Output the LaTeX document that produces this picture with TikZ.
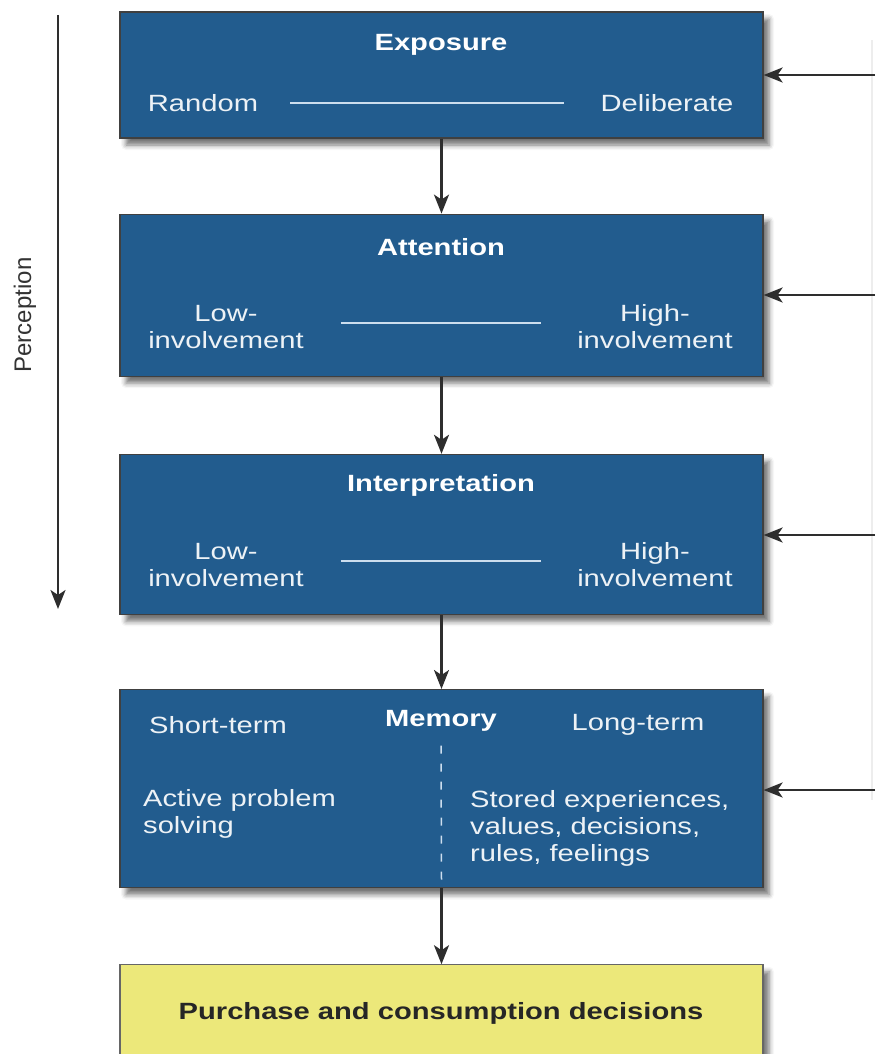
\documentclass[tikz,border=0pt]{standalone}
\usepackage{fontspec}
\setmainfont{Liberation Sans}
\newfontfamily\boxfont{Liberation Sans}[FakeStretch=1.24]
\usetikzlibrary{positioning}
\usetikzlibrary{arrows.meta}
\usetikzlibrary{shadows.blur}
\definecolor{stageblue}{RGB}{34,92,142}
\definecolor{buyyellow}{RGB}{236,232,122}
\definecolor{lineblue}{RGB}{205,222,238}
\tikzset{
    stage/.style = {rectangle, draw=black!75, line width=1.2pt, fill=stageblue, minimum width=643pt, inner sep=0pt, blur shadow={shadow xshift=6pt, shadow yshift=-7pt, shadow blur radius=5pt, shadow opacity=55}},
    buy/.style = {stage, fill=buyyellow, draw=black!60},
    ttl/.style = {text=white, font=\boxfont\bfseries\fontsize{23.5}{27}\selectfont, inner sep=0pt},
    txt/.style = {text=white!92!stageblue, font=\boxfont\fontsize{23.5}{27}\selectfont, inner sep=0pt, align=center},
    txtl/.style = {txt, align=left},
    flow/.style = {-{Stealth[length=19pt,width=15pt,inset=5pt]}, line width=2.4pt, black!82},
    rangeline/.style = {line width=1.5pt, lineblue},
    memline/.style = {line width=1.5pt, lineblue, dash pattern=on 8pt off 10pt},
}

\begin{document}
\begin{tikzpicture}[x=1pt, y=-1pt, node distance=77pt]
  \useasboundingbox (0,0) rectangle (875,1054);
  % stages
  \node[stage, minimum height=126pt] (expo) at (441.5,75) {};
  \node[stage, minimum height=162pt, below=75pt of expo] (attn) {};
  \node[stage, minimum height=160pt, below=77pt of attn] (intp) {};
  \node[stage, minimum height=198pt, below=74pt of intp] (memo) {};
  \node[buy, minimum height=120pt, below=76pt of memo] (buy) {};

  % exposure
  \node[ttl] (expoT) at (441,45) {Exposure};
  \node[txt] (rand) at (203,103) {Random};
  \node[txt] (delib) at (667,103) {Deliberate};
  \draw[rangeline] ([xshift=32pt]rand.east) -- ([xshift=-36pt]delib.west);

  % attention
  \node[ttl] (attnT) at (441,247) {Attention};
  \node[txt] (lowA) at (226,327) {Low-\\involvement};
  \node[txt] (highA) at (655,327) {High-\\involvement};
  \draw[rangeline] ([xshift=37pt,yshift=4pt]lowA.east) -- ([xshift=-36pt,yshift=4pt]highA.west);

  % interpretation
  \node[ttl] (intpT) at (441,485) {Interpretation};
  \node[txt] (lowI) at (226,565) {Low-\\involvement};
  \node[txt] (highI) at (655,565) {High-\\involvement};
  \draw[rangeline] ([xshift=37pt,yshift=4pt]lowI.east) -- ([xshift=-36pt,yshift=4pt]highI.west);

  % memory
  \node[ttl] (memoT) at (441,721) {Memory};
  \node[txt] (short) at (218,725) {Short-term};
  \node[txt] (long) at (638,725) {Long-term};
  \node[txtl, anchor=west] (active) at (143,814) {Active problem\\solving};
  \node[txtl, anchor=west] (stored) at (470,828) {Stored experiences,\\values, decisions,\\rules, feelings};
  \draw[memline] ([yshift=-14pt]memoT.south) -- ([yshift=8pt]memo.south);

  % decisions
  \node[ttl, text=black!85] (buyT) at (441,1013) {Purchase and consumption decisions};

  % flow down
  \draw[flow] (expo) -- (attn);
  \draw[flow] (attn) -- (intp);
  \draw[flow] (intp) -- (memo);
  \draw[flow] (memo) -- (buy);

  % feedback from the right
  \draw[black!7, line width=2pt] (872,40) -- (872,800);
  \coordinate (fb1) at (875,75);
  \coordinate (fb2) at (875,295);
  \coordinate (fb3) at (875,535);
  \coordinate (fb4) at (875,790);
  \draw[flow] (fb1) -- (fb1 -| expo.east);
  \draw[flow] (fb2) -- (fb2 -| attn.east);
  \draw[flow] (fb3) -- (fb3 -| intp.east);
  \draw[flow] (fb4) -- (fb4 -| memo.east);

  % perception
  \coordinate (pTop) at (58,15);
  \coordinate (pBot) at (58,609);
  \draw[flow] (pTop) -- (pBot);
  \node[rotate=90, font=\fontsize{24}{28}\selectfont, text=black!80, inner sep=0pt] (perc) at (25,315) {Perception};
\end{tikzpicture}
\end{document}
